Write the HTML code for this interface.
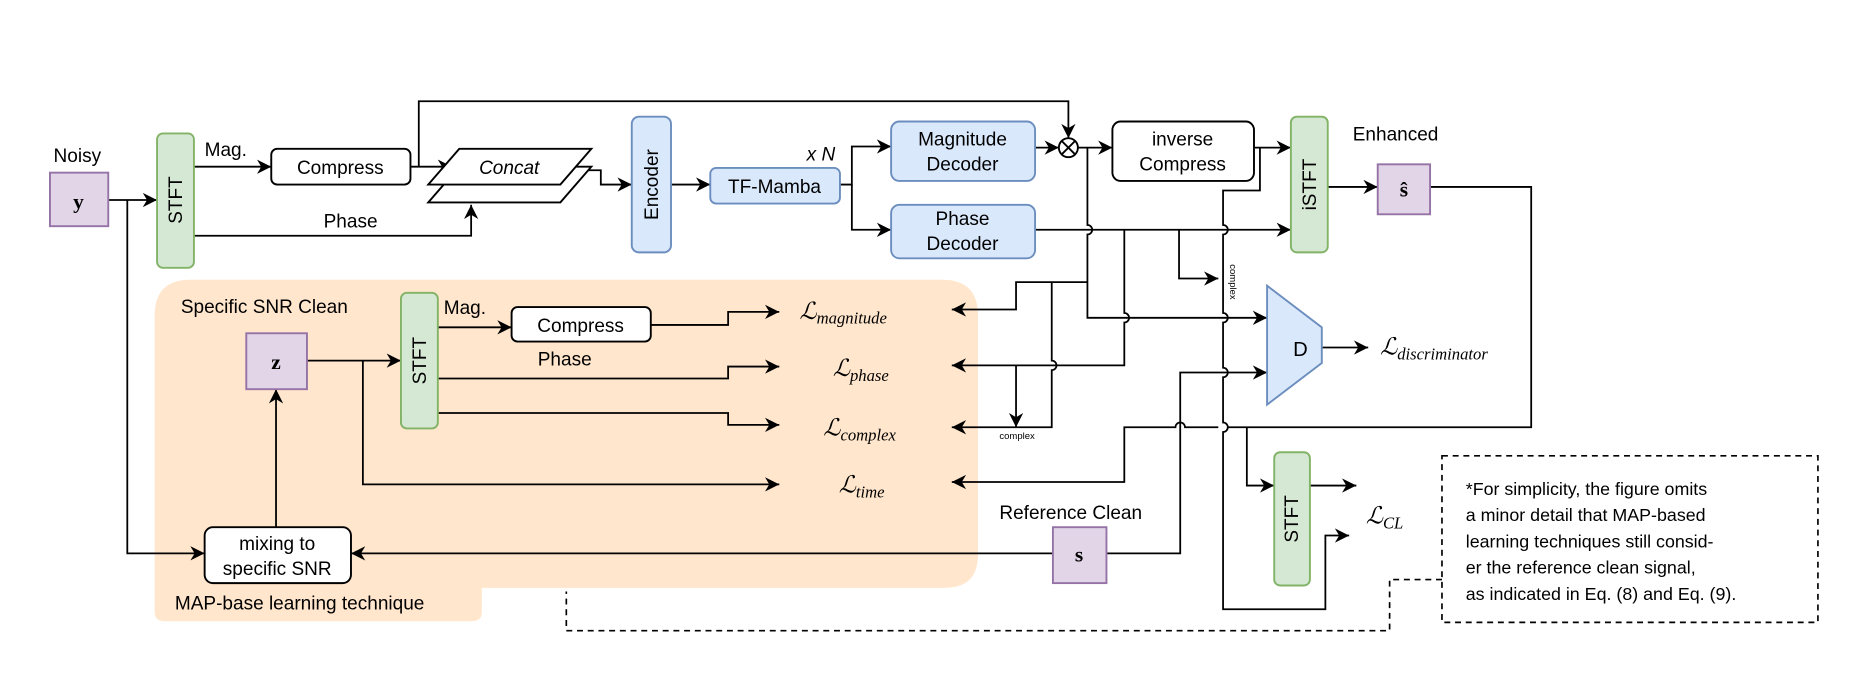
<!DOCTYPE html>
<html><head><meta charset="utf-8"><style>
html,body{margin:0;padding:0;background:#fff}
svg{display:block}
text{font-family:"Liberation Sans",Arial,sans-serif;fill:#000}
.m{font-family:"Liberation Serif","DejaVu Serif",serif;font-style:italic}
.b{font-family:"Liberation Serif","DejaVu Serif",serif;font-weight:bold;font-style:normal}
</style></head><body>
<svg width="1856" height="682" viewBox="0 0 1560 573" xmlns="http://www.w3.org/2000/svg">
<defs>
<marker id="a" viewBox="0 0 10 10" refX="10" refY="5" markerWidth="12" markerHeight="12" markerUnits="userSpaceOnUse" orient="auto">
<path d="M0,0 L10,5 L0,10 L3,5 z" fill="#000"/></marker>
</defs>
<path d="M160,235 H792 Q822,235 822,265 V466 Q822,494 794,494 H405 V514 Q405,522 397,522 H138 Q130,522 130,514 V265 Q130,235 160,235 Z" fill="#ffe6cc"/>
<g fill="none" stroke="#000" stroke-width="1.5">
<path d="M91,168 H132" marker-end="url(#a)"/>
<path d="M107,168 V465 H172" marker-end="url(#a)"/>
<path d="M163,140 H228" marker-end="url(#a)"/>
<path d="M345,140 H380" marker-end="url(#a)"/>
<path d="M352,140 V85 H898 V116" marker-end="url(#a)"/>
<path d="M163,198 H396 V172" marker-end="url(#a)"/>
<path d="M483,143 H505 V155 H531" marker-end="url(#a)"/>
<path d="M564,155 H597" marker-end="url(#a)"/>
<path d="M706,155 H716 V123 H749" marker-end="url(#a)"/>
<path d="M716,155 V193 H749" marker-end="url(#a)"/>
<path d="M870,124 H890" marker-end="url(#a)"/>
<path d="M906,124 H935" marker-end="url(#a)"/>
<path d="M1054,124 H1085" marker-end="url(#a)"/>
<path d="M870,193 H1085" marker-end="url(#a)"/>
<path d="M1116,157 H1158" marker-end="url(#a)"/>
<path d="M914,124 V189 a4,4 0 0 1 0,8 V267 H1065" marker-end="url(#a)"/>
<path d="M1059,124 V160 H1028 V189 a4,4 0 0 1 0,8 V263 a4,4 0 0 1 0,8 V309 a4,4 0 0 1 0,8 V355 a4,4 0 0 1 0,8 V512 H1114 V450 H1134" marker-end="url(#a)"/>
<path d="M945,193 V263 a4,4 0 0 1 0,8 V307 H800" marker-end="url(#a)"/>
<path d="M991,193 V234 H1024" marker-end="url(#a)"/>
<path d="M914,237 H854 V260 H800" marker-end="url(#a)"/>
<path d="M884,237 V303 a4,4 0 0 1 0,8 V359 H800" marker-end="url(#a)"/>
<path d="M854,307 V359" marker-end="url(#a)"/>
<path d="M1202,157 H1287 V359 H1032 M1024,359 H996 a4,4 0 0 0 -8,0 H945 V405 H800" marker-end="url(#a)"/>
<path d="M1048,359 V408 H1071" marker-end="url(#a)"/>
<path d="M1101,408 H1140" marker-end="url(#a)"/>
<path d="M1111,292 H1150" marker-end="url(#a)"/>
<path d="M885,465 H295" marker-end="url(#a)"/>
<path d="M930,465 H992 V313 H1065" marker-end="url(#a)"/>
<path d="M258,303 H337" marker-end="url(#a)"/>
<path d="M305,303 V407 H655" marker-end="url(#a)"/>
<path d="M232,443 V327" marker-end="url(#a)"/>
<path d="M368,275 H430" marker-end="url(#a)"/>
<path d="M547,273 H612 V262 H655" marker-end="url(#a)"/>
<path d="M368,318 H612 V308 H655" marker-end="url(#a)"/>
<path d="M368,347 H612 V357 H655" marker-end="url(#a)"/>
</g>
<g fill="none" stroke="#000" stroke-width="1.4" stroke-dasharray="5,4">
<rect x="1212" y="383" width="316" height="140"/>
<path d="M1212,487 H1168 V530 H476 V497"/>
</g>
<g stroke-width="1.6">
<rect x="42" y="145" width="49" height="45" fill="#e1d5e7" stroke="#9673a6"/>
<rect x="207" y="280" width="51" height="47" fill="#e1d5e7" stroke="#9673a6"/>
<rect x="885" y="443" width="45" height="47" fill="#e1d5e7" stroke="#9673a6"/>
<rect x="1158" y="138" width="44" height="42" fill="#e1d5e7" stroke="#9673a6"/>
<rect x="132" y="112" width="31" height="113" rx="5" fill="#d5e8d4" stroke="#82b366"/>
<rect x="337" y="246" width="31" height="114" rx="5" fill="#d5e8d4" stroke="#82b366"/>
<rect x="1085" y="98" width="31" height="114" rx="5" fill="#d5e8d4" stroke="#82b366"/>
<rect x="1071" y="380" width="30" height="112" rx="5" fill="#d5e8d4" stroke="#82b366"/>
<rect x="531" y="98" width="33" height="114" rx="6" fill="#dae8fc" stroke="#6c8ebf"/>
<rect x="597" y="141" width="109" height="30" rx="5" fill="#dae8fc" stroke="#6c8ebf"/>
<rect x="749" y="102" width="121" height="50" rx="7" fill="#dae8fc" stroke="#6c8ebf"/>
<rect x="749" y="172" width="121" height="45" rx="7" fill="#dae8fc" stroke="#6c8ebf"/>
<path d="M1065,240 L1111,275 V305 L1065,340 Z" fill="#dae8fc" stroke="#6c8ebf"/>
<rect x="228" y="125" width="117" height="30" rx="5" fill="#fff" stroke="#000"/>
<rect x="430" y="258" width="117" height="29" rx="5" fill="#fff" stroke="#000"/>
<rect x="935" y="102" width="119" height="50" rx="7" fill="#fff" stroke="#000"/>
<rect x="172" y="443" width="123" height="47" rx="7" fill="#fff" stroke="#000"/>
<path d="M360,170 L386,140 H497 L471,170 Z" fill="#fff" stroke="#000"/>
<path d="M360,155 L386,125 H497 L471,155 Z" fill="#fff" stroke="#000"/>
<circle cx="898" cy="124" r="8" fill="#fff" stroke="#000"/>
<path d="M892.3,118.3 L903.7,129.7 M903.7,118.3 L892.3,129.7" stroke="#000"/>
</g>
<g font-size="16">
<text x="45" y="136">Noisy</text>
<text x="66" y="175" class="b" text-anchor="middle" font-size="18">y</text>
<text x="232" y="310" class="b" text-anchor="middle" font-size="18">z</text>
<text x="907" y="472" class="b" text-anchor="middle" font-size="18">s</text>
<text x="1180" y="165" class="b" text-anchor="middle" font-size="18">ŝ</text>
<text x="172" y="131">Mag.</text>
<text x="286" y="146" text-anchor="middle">Compress</text>
<text x="488" y="279" text-anchor="middle">Compress</text>
<text x="272" y="191">Phase</text>
<text x="428" y="146" font-style="italic" text-anchor="middle">Concat</text>
<text x="651" y="162" text-anchor="middle">TF-Mamba</text>
<text x="690" y="135" font-style="italic" text-anchor="middle">x N</text>
<text x="809" y="122" text-anchor="middle">Magnitude</text>
<text x="809" y="143" text-anchor="middle">Decoder</text>
<text x="809" y="189" text-anchor="middle">Phase</text>
<text x="809" y="210" text-anchor="middle">Decoder</text>
<text x="994" y="122" text-anchor="middle">inverse</text>
<text x="994" y="143" text-anchor="middle">Compress</text>
<text x="1173" y="118" text-anchor="middle">Enhanced</text>
<text x="1093" y="299" text-anchor="middle" font-size="17">D</text>
<text transform="translate(153,168) rotate(-90)" text-anchor="middle">STFT</text>
<text transform="translate(358,303) rotate(-90)" text-anchor="middle">STFT</text>
<text transform="translate(1106,155) rotate(-90)" text-anchor="middle">iSTFT</text>
<text transform="translate(1091,436) rotate(-90)" text-anchor="middle">STFT</text>
<text transform="translate(553,155) rotate(-90)" text-anchor="middle">Encoder</text>
<text x="152" y="263">Specific SNR Clean</text>
<text x="373" y="264">Mag.</text>
<text x="452" y="307">Phase</text>
<text x="233" y="462" text-anchor="middle">mixing to</text>
<text x="233" y="483" text-anchor="middle">specific SNR</text>
<text x="147" y="512">MAP-base learning technique</text>
<text x="840" y="436">Reference Clean</text>
<g font-size="15">
<text x="1232" y="416">*For simplicity, the figure omits</text>
<text x="1232" y="438">a minor detail that MAP-based</text>
<text x="1232" y="460">learning techniques still consid-</text>
<text x="1232" y="482">er the reference clean signal,</text>
<text x="1232" y="504">as indicated in Eq. (8) and Eq. (9).</text>
</g>
</g>
<g font-size="8">
<text x="840" y="369">complex</text>
<text transform="translate(1034,222) rotate(90)">complex</text>
</g>
<g class="m">
<text x="672" y="268" font-size="20">ℒ<tspan class="m" font-size="14" dy="4">magnitude</tspan></text>
<text x="700" y="316" font-size="20">ℒ<tspan class="m" font-size="14" dy="4">phase</tspan></text>
<text x="692" y="366" font-size="20">ℒ<tspan class="m" font-size="14" dy="4">complex</tspan></text>
<text x="705" y="414" font-size="20">ℒ<tspan class="m" font-size="14" dy="4">time</tspan></text>
<text x="1160" y="298" font-size="20">ℒ<tspan class="m" font-size="14" dy="4">discriminator</tspan></text>
<text x="1148" y="440" font-size="20">ℒ<tspan class="m" font-size="14" dy="4">CL</tspan></text>
</g>
</svg>
</body></html>
